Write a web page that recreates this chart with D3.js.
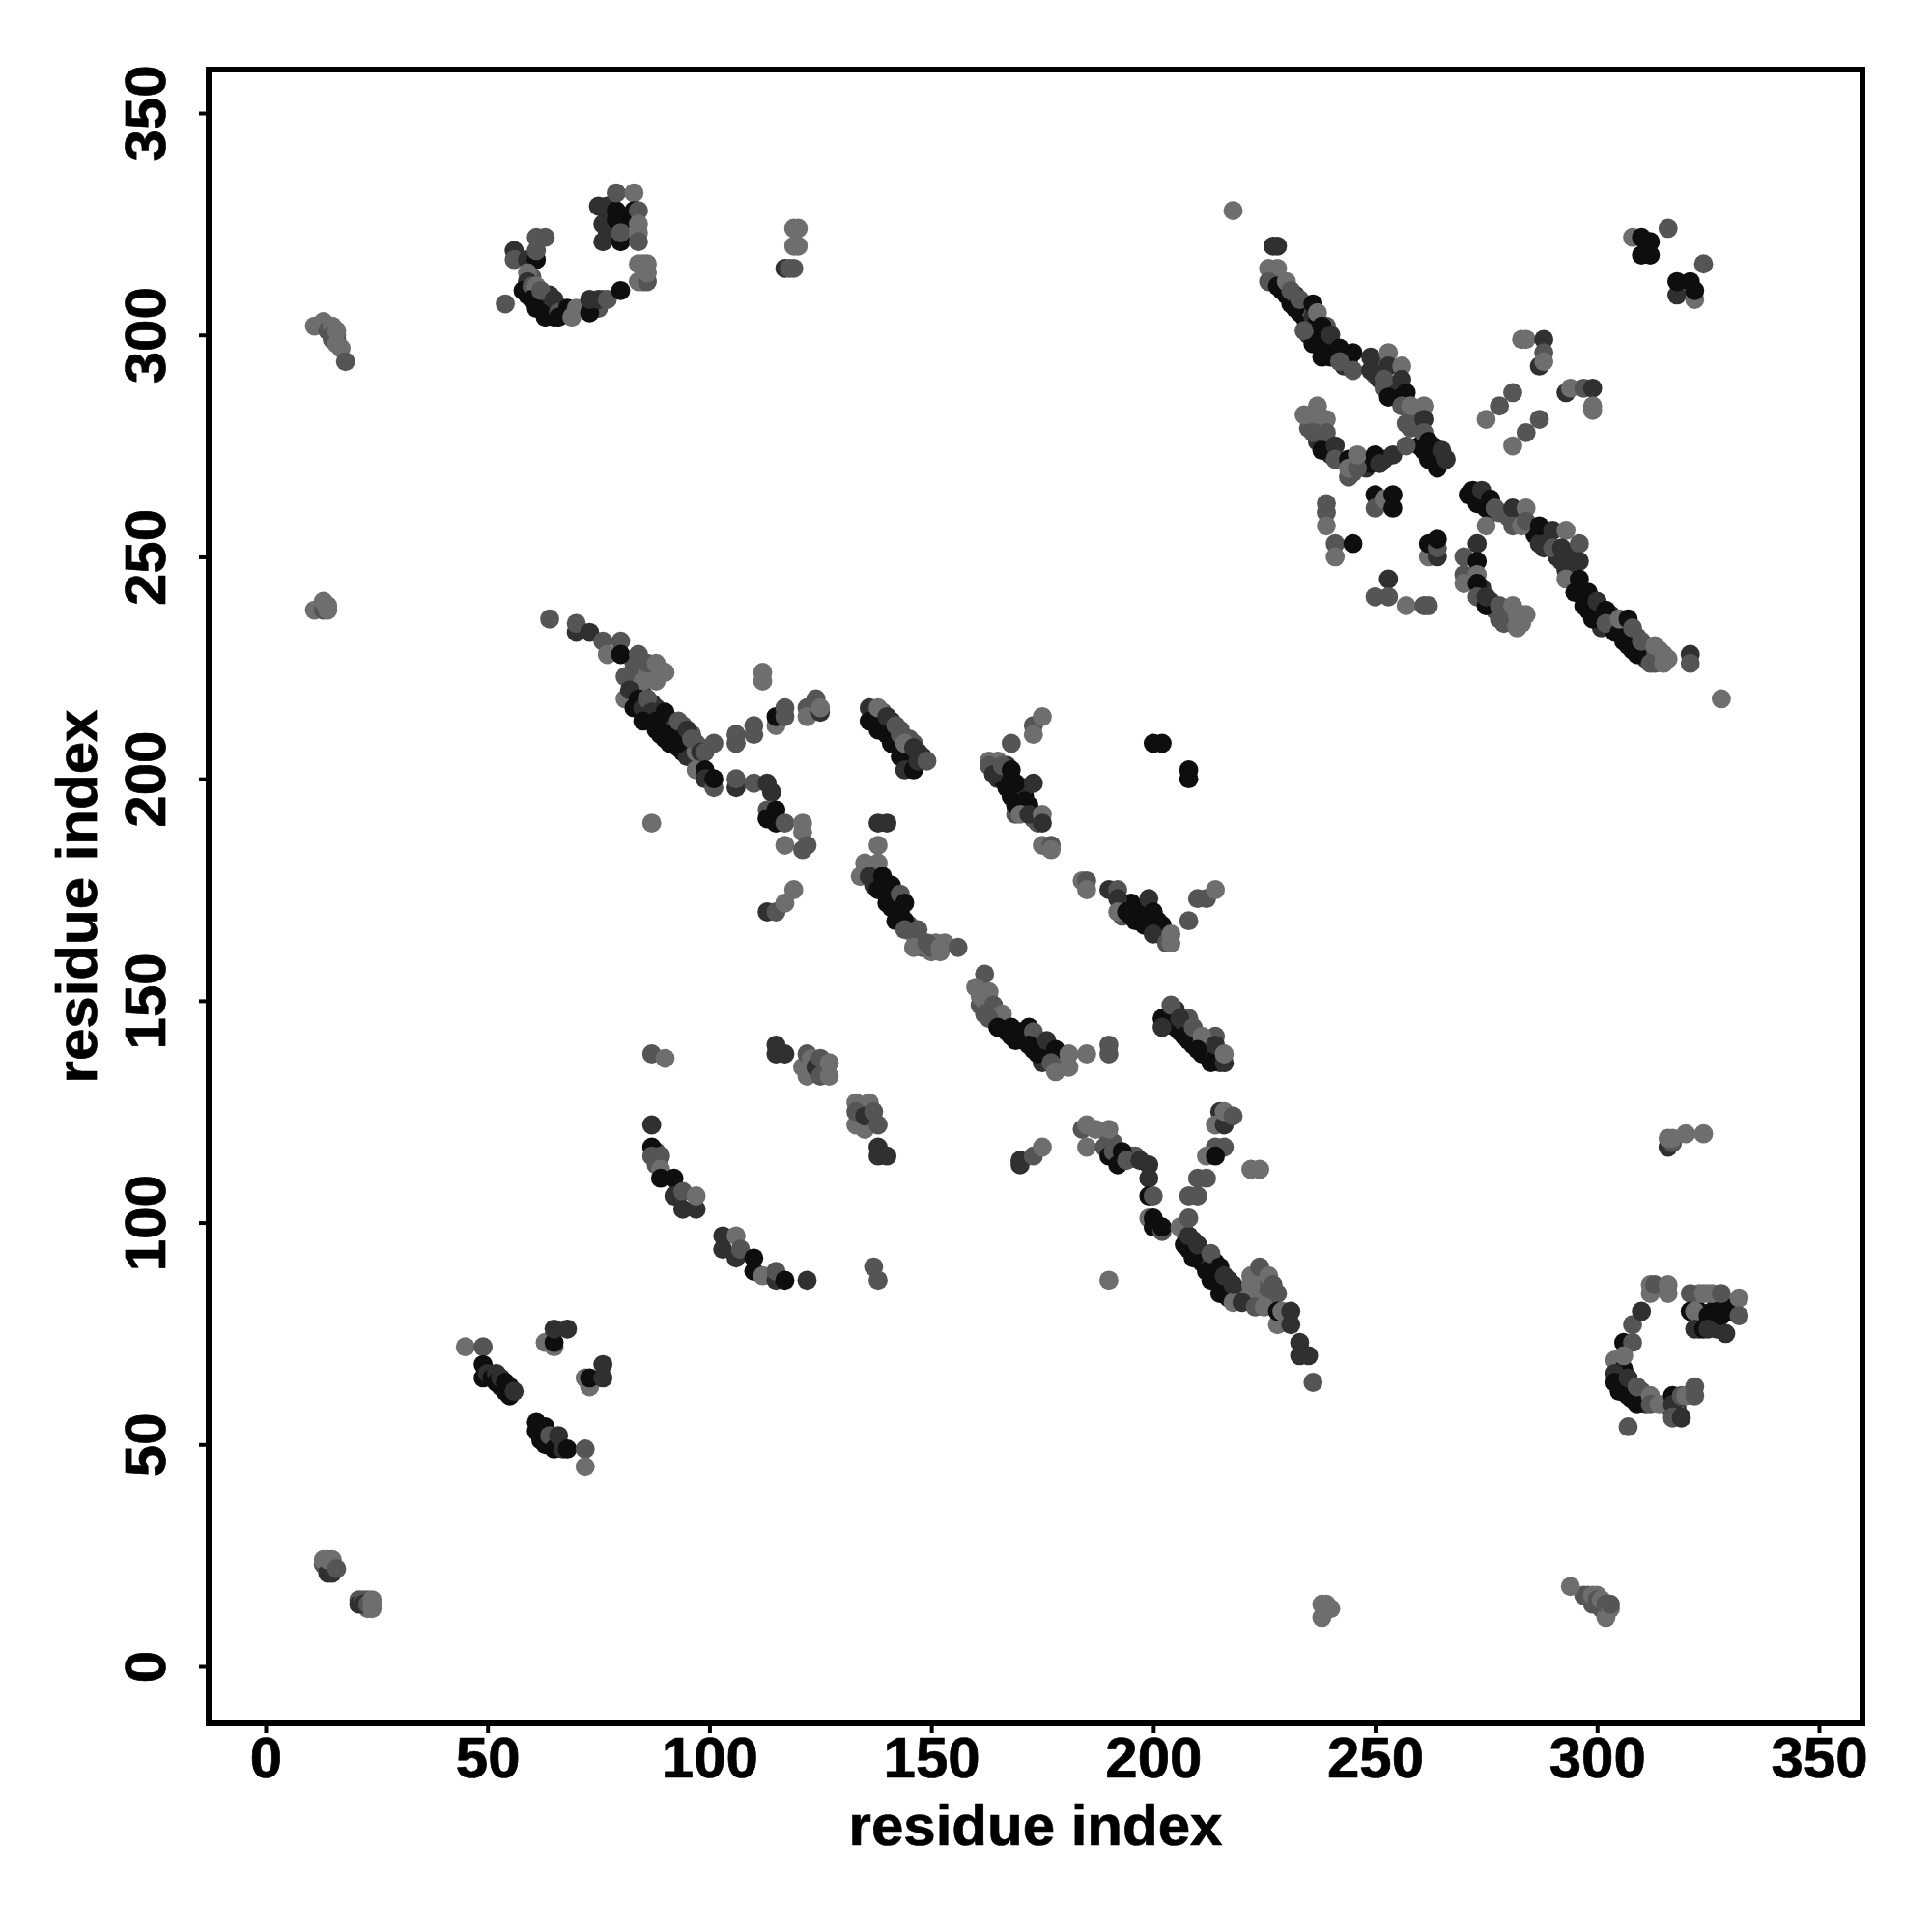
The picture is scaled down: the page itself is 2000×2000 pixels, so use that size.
<!DOCTYPE html>
<html><head><meta charset="utf-8"><script src="https://cdn.jsdelivr.net/npm/d3@7"></script>
<style>html,body{margin:0;background:#fff}svg{display:block}text{font-family:"Liberation Sans",Arial,sans-serif;font-weight:700;fill:#000;stroke:#000;stroke-width:.7px}</style>
</head><body><svg id="c" width="2000" height="2000"></svg>
<script>
// contact triples: [residue i, residue j, strength 0 (weak) .. 3 (strong)]
const innerA = [[83,218,3],[84,216,3],[85,215,3],[86,214,3],[87,213,3],[88,211,3],[89,210,3],[90,209,3],[91,208,3],[92,208,3],[93,207,3],[94,206,3],[95,205,2],[84,220,2],[85,219,2],[86,218,2],[87,217,2],[88,216,2],[89,215,2],[90,214,2],[91,213,2],[92,212,2],[94,212,1],[95,210,2],[96,210,1],[97,208,1],[98,207,1],[83,226,1],[84,225,1],[85,226,1],[87,224,0],[86,224,0],[83,222,1]];
const innerB = [[137,214,3],[139,212,3],[140,210,3],[142,209,3],[143,207,3],[144,206,3],[145,204,3],[139,215,1],[141,213,2],[143,211,1],[145,209,1],[146,208,1],[147,206,2],[148,205,2],[137,176,2],[139,176,3],[140,174,3],[142,172,3],[141,171,3],[143,170,3],[145,167,1],[146,165,0],[147,164,1],[148,162,1],[149,162,0],[151,163,0],[150,161,0],[153,163,0],[151,162,1]];
const innerD = [[165,200,2],[166,200,3],[167,200,3],[168,196,3],[170,197,3],[170,194,3],[171,196,3],[172,194,3],[169,192,1],[167,203,2],[171,198,2],[174,190,1],[173,191,1],[193,172,2],[193,169,1],[195,172,3],[196,168,3],[197,170,3],[198,169,3],[199,168,3],[201,168,3],[201,166,3],[202,165,2],[203,164,2],[195,169,3]];
const innerF = [[161,149,1],[162,150,0],[163,149,1],[164,147,1],[165,146,1],[166,145,2],[167,143,3],[169,141,3],[170,142,3],[171,141,3],[173,139,3],[174,141,1],[175,139,3],[176,137,3],[175,136,2],[177,138,1],[178,137,1],[179,137,0],[179,135,0],[180,136,0],[204,145,3],[205,144,3],[206,143,3],[208,141,3],[209,140,3],[211,138,3],[205,148,2],[207,145,2],[208,146,1],[209,143,1],[210,142,1],[212,141,2],[213,139,2],[214,137,3],[215,138,1],[215,136,2],[214,142,1]];
const innerI = [[190,119,1],[191,118,1],[192,115,3],[193,114,3],[195,115,1],[196,115,1],[207,98,1],[208,94,3],[209,96,2],[210,94,2],[211,91,3],[212,92,2],[213,90,2],[214,88,3],[215,87,2],[214,91,3],[216,85,3],[217,87,2],[218,84,3],[219,84,2],[220,82,1],[221,83,1],[222,84,0],[223,87,0],[224,86,0],[225,88,1],[226,83,0],[227,83,1],[226,85,1]];
const innerUp = [[227,313,1],[229,310,3],[230,309,3],[231,307,3],[232,309,2],[233,305,3],[234,304,3],[235,303,3],[235,300,2],[235,306,1],[236,304,2],[237,300,3],[238,298,3],[238,295,3],[240,297,3],[240,295,3],[241,296,3],[243,295,2],[243,293,2],[244,294,1],[237,303,3],[239,302,1],[250,291,1],[251,290,2],[252,293,1],[252,288,1],[254,287,3],[255,288,2],[256,286,3],[257,285,2],[258,281,1],[258,279,1],[259,281,1],[261,276,3],[263,272,3],[263,275,3],[264,273,3],[264,272,2],[262,274,2],[260,275,3],[235,281,0],[238,280,0],[237,280,1],[237,276,2],[240,273,2],[244,268,1],[245,271,2],[245,269,1],[248,270,2],[249,271,3],[252,272,2],[235,279,1]];
const innerLow = [[273,264,3],[274,263,3],[275,261,3],[276,260,3],[278,260,1],[280,259,1],[282,259,1],[283,259,0],[286,255,3],[288,254,2],[288,252,2],[289,253,2],[291,250,2],[294,251,2],[293,247,2],[296,243,3],[297,241,3],[298,238,3],[299,240,2],[300,237,3],[301,234,2],[303,235,1],[303,237,2],[304,235,1],[304,233,3],[306,231,3],[306,233,2],[308,229,3],[309,232,1],[310,228,3],[311,230,1],[311,227,2],[313,226,1],[312,229,1],[314,227,0],[314,229,0],[274,243,2],[276,240,2],[277,238,1],[279,237,1],[279,235,1],[280,236,1],[281,236,0],[283,235,0],[283,237,0]];
const innerCorner = [[305,64,3],[306,63,3],[308,60,3],[308,63,2],[309,61,2],[310,60,3],[311,59,2],[310,62,1],[318,58,2],[318,60,3],[317,57,2],[318,57,1],[323,80,3],[326,80,3],[327,80,3],[323,84,0],[326,84,0],[327,76,2],[323,76,2],[330,80,3],[59,309,3],[60,313,1],[62,307,3],[63,306,3],[64,309,2],[65,307,1],[67,306,1],[64,305,3],[69,305,1],[74,306,3],[75,306,1],[76,308,1],[77,327,2],[78,328,3],[78,326,3],[79,323,1],[81,322,1],[81,326,3],[77,323,2],[85,316,0],[85,313,0],[85,312,1],[13,23,1],[14,22,2],[15,22,1],[22,14,2],[23,13,0],[23,15,0],[21,15,1],[23,14,0],[14,302,1],[15,301,1],[16,300,0],[17,297,0],[15,299,1],[299,14,1],[300,14,1],[301,13,1],[301,14,1],[297,16,1],[300,16,0],[88,116,1],[88,113,1]];
const nTerm = [[13,24,0],[15,24,0],[14,21,2],[15,21,2],[14,24,0],[16,22,1],[21,14,2],[22,15,1],[22,14,2],[23,14,1],[24,13,0],[24,15,0],[24,14,0]];
const hairpinA = [[45,72,0],[49,72,1],[49,68,3],[49,65,3],[50,66,2],[51,65,3],[52,66,2],[52,64,3],[53,63,3],[53,65,2],[54,62,3],[54,64,3],[55,63,3],[55,61,3],[56,62,2],[61,55,3],[61,53,3],[62,51,3],[63,50,3],[63,54,3],[64,52,1],[65,49,3],[66,52,2],[67,49,2],[68,49,3],[72,49,1],[72,45,0]];
const hairpinB = [[63,73,0],[65,72,0],[65,73,3],[65,76,2],[68,76,2],[72,65,0],[73,63,0],[73,65,3],[76,68,2],[76,65,2]];
const farTopLeft = [[11,302,0],[13,303,0],[14,301,1],[15,302,0],[15,300,1],[16,299,1],[16,301,0],[16,298,0],[18,294,1],[11,238,0],[13,238,1],[13,240,0],[14,239,0],[14,238,0]];
const arcTopA = [[54,307,1],[56,319,2],[56,317,1],[59,317,2],[61,317,3],[61,319,1],[59,314,0],[61,322,1],[63,322,1],[59,312,2],[58,310,3],[60,311,1],[61,311,0],[60,308,3],[61,306,3],[62,310,1],[63,304,3],[65,308,2],[65,304,3],[66,305,1],[66,304,3],[68,306,3],[69,304,0],[70,306,0],[73,305,3],[73,308,2],[75,308,2],[77,308,1],[80,310,3]];
const arcTopB = [[76,325,2],[76,321,2],[75,329,2],[77,329,2],[79,328,3],[79,326,3],[80,325,3],[80,321,3],[80,323,1],[79,332,1],[83,332,0],[83,328,3],[84,328,1],[84,325,0],[84,323,0],[84,321,1],[84,316,0],[86,316,0],[84,312,0],[86,312,1],[86,314,0],[119,324,0],[120,324,0],[119,320,0],[120,320,0],[117,315,2],[118,315,1],[119,315,1]];
const bandA = [[64,236,1],[70,233,2],[70,235,1],[73,233,2],[76,231,1],[80,231,1],[77,228,0],[80,228,3],[84,228,1],[86,226,1],[81,223,1],[88,226,0],[85,222,0],[88,222,0],[90,224,0],[89,224,0],[81,218,0],[82,220,2],[84,218,3],[83,216,3],[85,216,2],[86,218,1],[87,215,2],[85,213,3],[88,213,3],[90,215,3],[88,212,3],[89,210,3],[91,210,3],[93,208,3],[93,213,1],[95,211,2],[97,206,0],[96,209,1],[98,206,2],[99,206,1],[101,208,1]];
const bandAside = [[97,202,0],[99,202,3],[99,200,2],[101,198,1],[101,200,3],[106,198,2],[106,200,1],[110,199,1],[113,199,2],[114,197,2],[113,193,1],[113,191,3],[115,190,3],[115,193,3],[117,190,1],[121,188,0],[121,190,0],[117,185,0],[121,184,1],[122,185,1],[87,190,0]];
const crossA = [[112,224,0],[112,222,0],[106,210,1],[106,208,1],[110,212,1],[110,210,1],[115,212,0],[115,214,3],[117,214,1],[117,216,1],[124,218,1],[122,216,1],[122,214,0],[125,215,2],[125,216,0],[113,170,2],[115,170,1],[117,172,0],[119,175,0]];
const bandB = [[136,216,2],[136,213,3],[138,211,3],[141,208,3],[143,205,3],[138,216,0],[140,214,2],[142,212,1],[143,210,1],[144,208,0],[146,207,2],[144,202,2],[146,202,3],[147,204,2],[149,204,1],[138,190,2],[140,190,2],[138,185,0]];
const bandC = [[135,181,0],[138,181,0],[134,178,0],[136,178,2],[139,178,3],[138,175,3],[141,176,3],[140,172,3],[143,174,1],[144,172,3],[142,168,3],[144,168,3],[144,166,1],[147,166,1],[146,162,0],[149,163,1],[150,162,1],[152,162,0],[152,161,0],[156,162,1]];
const bandD = [[163,204,0],[165,204,0],[163,203,1],[164,201,2],[166,203,1],[167,198,3],[168,202,3],[169,194,3],[169,199,3],[171,195,3],[170,192,0],[172,192,2],[173,199,2],[175,192,0],[175,190,2],[173,212,1],[173,210,0],[175,214,0],[168,208,1],[175,185,0],[177,185,1],[177,184,0]];
const bandE = [[184,177,0],[185,177,1],[185,175,0],[190,175,2],[192,175,1],[192,173,2],[192,170,0],[194,170,3],[196,170,3],[198,167,3],[199,173,2],[200,170,3],[202,167,3],[200,165,2],[203,163,1],[204,165,0],[204,163,0],[210,173,1],[212,173,1],[214,175,0],[208,168,1],[200,208,3],[202,208,3],[208,202,3],[208,200,3]];
const bandF = [[162,156,1],[160,153,0],[163,152,0],[161,151,0],[162,147,1],[164,149,1],[166,147,0],[163,146,1],[165,144,3],[168,144,3],[168,142,3],[170,143,3],[172,144,3],[173,143,1],[172,140,3],[174,138,3],[176,141,2],[178,139,3],[177,136,1],[181,138,0],[181,135,0],[178,134,0],[185,138,0],[190,140,1],[190,138,1]];
const bandG = [[202,146,3],[202,144,2],[204,149,1],[206,146,2],[207,142,3],[209,144,1],[211,142,0],[210,139,3],[214,140,2],[213,136,3],[216,136,2],[216,138,0]];
const loopLeft = [[87,138,1],[90,137,0],[87,122,2],[87,117,3],[87,115,1],[89,115,1],[89,112,0],[89,110,3],[92,110,3],[92,106,2],[94,107,1],[94,103,2],[97,103,2],[97,106,0],[103,97,2],[106,97,0],[103,94,2],[106,92,2],[107,94,1],[110,89,3],[110,92,3],[112,88,0],[115,87,2],[115,89,1],[117,87,3],[122,87,2],[137,90,1],[138,87,1],[190,87,0]];
const loopRight = [[115,140,2],[115,138,2],[117,138,2],[121,135,0],[122,133,0],[122,138,1],[123,137,0],[124,135,2],[125,133,1],[125,137,1],[127,133,0],[127,136,0],[133,127,0],[136,127,0],[133,122,0],[135,121,0],[133,125,1],[135,124,2],[137,125,1],[138,122,1],[138,117,2],[138,115,2],[140,115,2]];
const bandH = [[170,114,2],[170,113,2],[173,115,1],[175,117,0],[184,121,1],[185,122,0],[187,121,0],[190,121,0],[185,117,0],[189,117,1],[190,115,3],[191,116,1],[192,113,3],[193,116,3],[194,114,1],[197,114,2],[199,113,2],[199,110,2],[199,106,3],[200,106,1],[199,101,0],[200,101,3],[200,99,3],[202,98,1],[202,99,3]];
const bandHup = [[215,125,2],[214,122,0],[216,122,2],[216,125,0],[218,124,1],[214,117,1],[216,117,1],[212,115,0],[214,115,3],[222,112,0],[224,112,0],[210,110,1],[212,110,1],[208,106,1],[210,106,1]];
const bandI = [[206,99,0],[207,95,3],[208,97,2],[209,92,3],[210,95,2],[208,101,1],[212,89,3],[213,87,3],[213,93,1],[215,84,3],[215,90,3],[216,88,2],[217,83,3],[218,82,0],[218,86,2],[220,82,2],[222,86,0],[222,88,0],[223,81,1],[224,90,1],[226,88,0],[225,81,0],[227,86,1],[228,77,0],[228,84,1],[228,80,3],[229,80,0],[231,80,2],[231,77,2],[233,73,2],[233,70,2],[235,70,2],[236,64,1]];
const farBottom = [[238,11,0],[238,14,0],[239,14,0],[240,13,0],[294,18,0],[298,16,1],[299,16,0],[300,15,1],[301,15,0],[302,11,0],[302,14,1],[303,13,0],[303,14,1]];
const upperTopA = [[218,328,0],[227,320,2],[228,320,2],[226,315,0],[228,315,0],[226,312,1],[228,311,3],[230,312,0],[231,310,1],[232,306,3],[233,308,1],[236,307,3],[236,298,3],[234,301,1],[237,305,0],[238,302,3],[239,296,3],[240,300,2],[242,297,3],[245,296,3],[242,294,1],[245,292,1]];
const upperTopB = [[249,295,2],[249,292,2],[253,296,0],[253,293,2],[252,290,1],[256,293,0],[256,290,2],[253,286,3],[257,287,3],[256,284,1],[258,284,0],[261,284,0],[257,280,1],[261,281,2],[261,278,1],[261,274,3],[262,272,3],[262,276,3],[264,270,3],[265,274,2],[266,272,2]];
const upperLoop = [[237,284,0],[234,282,0],[236,282,0],[239,281,0],[236,278,1],[239,278,1],[238,274,3],[241,275,2],[241,272,1],[244,272,3],[244,270,0],[246,270,1],[246,273,0],[250,273,3],[251,271,2],[254,273,2],[257,275,1]];
const upperOut = [[250,264,3],[250,261,1],[252,263,0],[254,261,3],[254,264,3],[239,262,1],[239,260,1],[239,257,0],[241,253,1],[245,253,3],[241,250,0],[262,250,0],[262,253,3],[264,250,2],[264,252,1],[264,254,3],[253,245,2],[250,241,1],[253,241,1],[257,239,0],[261,239,1],[262,239,1]];
const lowerRightA = [[271,264,3],[272,265,3],[273,262,3],[274,265,2],[276,263,3],[277,261,1],[281,261,2],[284,261,0],[275,257,0],[281,257,1],[283,257,0],[284,258,1],[287,253,2],[287,257,3],[290,256,2],[290,252,1],[293,256,0],[292,252,2],[296,253,1],[292,249,2],[296,249,2],[293,245,0],[296,245,3],[295,242,3],[297,239,3],[298,242,3],[299,236,3],[300,240,2],[302,238,3],[302,235,1],[305,233,3],[305,236,0],[307,230,3],[307,236,3],[308,234,1],[309,228,3],[310,231,1],[312,226,1],[313,230,0],[315,228,0],[315,226,0],[316,227,0],[321,228,2],[321,226,1],[328,218,0]];
const lowerRightB = [[273,253,2],[270,250,1],[273,249,3],[270,246,1],[270,244,0],[273,246,0],[273,244,3],[273,241,1],[275,239,3],[275,241,2],[278,239,1],[278,236,1],[281,239,0],[282,237,0],[282,234,0],[284,237,0]];
const crossUpper = [[283,299,0],[284,299,0],[287,293,2],[288,299,2],[288,296,1],[288,294,0],[293,287,2],[294,288,0],[297,288,1],[299,288,2],[299,284,0],[299,283,0],[281,287,1],[278,284,1],[275,281,0],[287,281,1],[284,278,1],[281,275,0]];
const cornerTR = [[308,322,0],[310,322,3],[310,318,3],[312,321,3],[312,318,3],[316,324,1],[324,316,1],[318,309,2],[318,312,3],[321,312,3],[322,308,0],[322,310,3]];
const cornerBR = [[307,54,1],[306,73,3],[308,73,1],[308,77,1],[310,80,2],[312,86,0],[312,84,0],[313,86,1],[316,86,0],[316,84,0],[304,69,0],[306,67,3],[306,70,0],[304,66,2],[304,64,3],[305,62,3],[307,61,3],[307,65,2],[309,59,3],[309,63,1],[312,61,0],[312,59,1],[314,59,0],[317,61,3],[317,59,2],[317,56,1],[319,61,1],[319,56,2],[320,61,0],[322,63,1],[322,61,1]];
const cornerBR2 = [[321,84,1],[321,80,3],[322,80,0],[322,76,2],[324,84,0],[325,84,0],[325,79,3],[324,76,3],[325,76,2],[328,79,3],[329,81,3],[328,84,1],[329,75,2],[332,83,0],[332,79,1],[316,117,2],[317,118,1],[316,119,0],[317,119,0],[320,120,0],[324,120,0]];

const contacts = [...innerA,...innerB,...innerD,...innerF,...innerI,...innerUp,...innerLow,...innerCorner,...nTerm,...hairpinA,...hairpinB,...farTopLeft,...arcTopA,...arcTopB,...bandA,...bandAside,...crossA,...bandB,...bandC,...bandD,...bandE,...bandF,...bandG,...loopLeft,...loopRight,...bandH,...bandHup,...bandI,...farBottom,...upperTopA,...upperTopB,...upperLoop,...upperOut,...lowerRightA,...lowerRightB,...crossUpper,...cornerTR,...cornerBR,...cornerBR2];
const tickValues = [0,50,100,150,200,250,300,350];
const axisTitle = "residue index";

const svg = d3.select("#c");
const L=216,R=1928,T=72,B=1784;
const x = d3.scaleLinear().domain([-12.84,359.8]).range([L,R]);
const y = d3.scaleLinear().domain([-12.84,359.8]).range([B,T]);
const shade = d3.scaleOrdinal().domain([0,1,2,3]).range(["#6e6e6e","#555555","#303030","#0e0e0e"]);

svg.append("g").selectAll("circle").data(contacts).join("circle")
  .attr("cx",d=>x(d[0])).attr("cy",d=>y(d[1])).attr("r",9.9).attr("fill",d=>shade(d[2]));

svg.append("rect").attr("x",L).attr("y",T).attr("width",R-L).attr("height",B-T)
  .attr("fill","none").attr("stroke","#000").attr("stroke-width",6);

const ax = svg.append("g").attr("transform",`translate(0,${B})`)
  .call(d3.axisBottom(x).tickValues(tickValues).tickSize(10).tickSizeOuter(0));
ax.select(".domain").remove();
ax.selectAll("line").attr("stroke","#000").attr("stroke-width",4);
ax.selectAll("text").attr("y",56).attr("dy",0).style("font-size","60px");

const ay = svg.append("g").attr("transform",`translate(${L},0)`)
  .call(d3.axisLeft(y).tickValues(tickValues).tickSize(10).tickSizeOuter(0));
ay.select(".domain").remove();
ay.selectAll("line").attr("stroke","#000").attr("stroke-width",4);
ay.selectAll("text").attr("x",null).attr("y",null).attr("dy",0)
  .attr("text-anchor","middle")
  .attr("transform",d=>`translate(-45,0) rotate(-90)`)
  .style("font-size","60px");

svg.append("text").attr("x",(L+R)/2).attr("y",1910).attr("text-anchor","middle").style("font-size","60px").text(axisTitle);
svg.append("text").attr("transform",`translate(100,${(T+B)/2}) rotate(-90)`).attr("text-anchor","middle").style("font-size","60px").text(axisTitle);
</script></body></html>
